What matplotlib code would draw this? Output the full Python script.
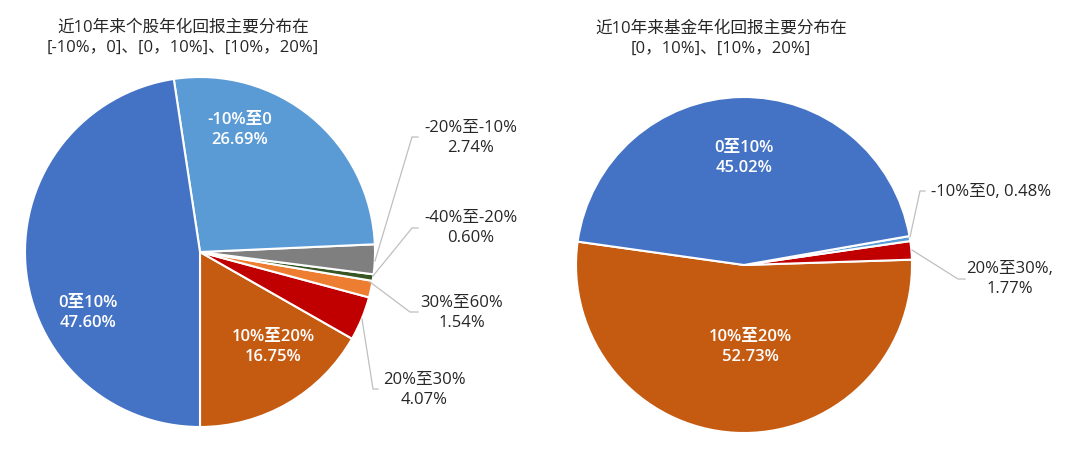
import matplotlib
matplotlib.use("Agg")
import matplotlib.pyplot as plt

plt.rcParams["font.family"] = ["Open Sans", "Noto Sans CJK SC", "DejaVu Sans"]

# 个股 (left pie), counter-clockwise from the bottom
stock_names = ["10%至20%", "20%至30%", "30%至60%", "-40%至-20%", "-20%至-10%", "-10%至0", "0至10%"]
stock_values = [16.75, 4.07, 1.54, 0.60, 2.74, 26.69, 47.60]
stock_colors = ["#C55A11", "#C00000", "#ED7D31", "#375623", "#7F7F7F", "#5B9BD5", "#4472C4"]

# 基金 (right pie)
fund_names = ["10%至20%", "20%至30%", "-10%至0", "0至10%"]
fund_values = [52.73, 1.77, 0.48, 45.02]
fund_colors = ["#C55A11", "#C00000", "#5B9BD5", "#4472C4"]

title_left = "近10年来个股年化回报主要分布在\n[-10%，0]、[0，10%]、[10%，20%]"
title_right = "近10年来基金年化回报主要分布在\n[0，10%]、[10%，20%]"

W, H = 1080, 456
TXT = "#262626"
LINE = "#BFBFBF"
FS = 12


def Y(y):
    return H - y


fig = plt.figure(figsize=(W / 100, H / 100), dpi=100)
ax = fig.add_axes([0, 0, 1, 1])

wp = dict(edgecolor="white", linewidth=1.5)
ax.pie(stock_values, colors=stock_colors, startangle=270, counterclock=True,
       center=(200, Y(253)), radius=175, wedgeprops=wp)
ax.pie(fund_values, colors=fund_colors, startangle=172, counterclock=True,
       center=(744, Y(266)), radius=168, wedgeprops=wp)

ax.set_xlim(0, W)
ax.set_ylim(0, H)
ax.set_aspect("equal")
ax.axis("off")


def lab(name, val, sep="\n"):
    return f"{name}{sep}{val:.2f}%"


def put(x, y, s, color=TXT, weight="normal"):
    ax.text(x, Y(y), s, ha="center", va="center", fontsize=FS, color=color,
            linespacing=1.3, fontweight=weight)


def inner(x, y, s):
    put(x, y, s, "white", "semibold")


def leader(pts):
    xs = [p[0] for p in pts]
    ys = [Y(p[1]) for p in pts]
    ax.plot(xs, ys, color=LINE, lw=0.9, solid_joinstyle="miter")


# titles
put(183, 38, title_left)
put(721, 39, title_right)

# left pie labels
s = dict(zip(stock_names, stock_values))
inner(240, 130, lab("-10%至0", s["-10%至0"]))
inner(88, 313, lab("0至10%", s["0至10%"]))
inner(273, 347, lab("10%至20%", s["10%至20%"]))
put(471, 138, lab("-20%至-10%", s["-20%至-10%"]))
put(471, 228, lab("-40%至-20%", s["-40%至-20%"]))
put(462, 313, lab("30%至60%", s["30%至60%"]))
put(424, 390, lab("20%至30%", s["20%至30%"]))
leader([(418, 138), (412, 138), (375, 262)])
leader([(418, 229), (412, 229), (373, 277)])
leader([(370, 283), (410, 313), (418, 313)])
leader([(362, 320), (373, 390), (378, 390)])

# right pie labels
f = dict(zip(fund_names, fund_values))
inner(744, 158, lab("0至10%", f["0至10%"]))
inner(750, 347, lab("10%至20%", f["10%至20%"]))
put(991, 192, lab("-10%至0", f["-10%至0"], sep=", "))
put(1010, 279, lab("20%至30%", f["20%至30%"], sep=",\n"))
leader([(910, 238), (920, 192), (925, 192)])
leader([(912, 251), (958, 280), (965, 280)])

fig.savefig("out.png", dpi=100, facecolor="white")
